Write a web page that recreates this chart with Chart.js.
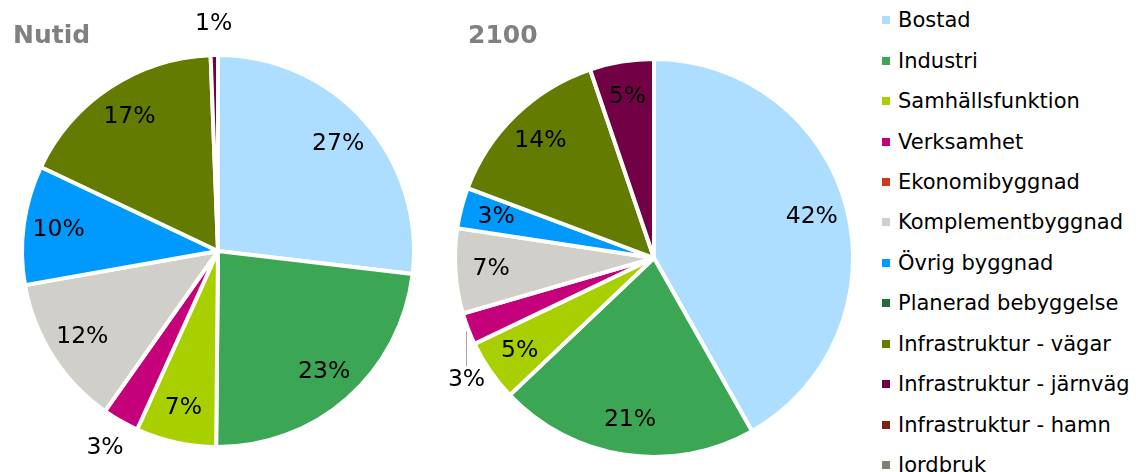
<!DOCTYPE html>
<html>
<head>
<meta charset="utf-8">
<script src="https://cdn.jsdelivr.net/npm/chart.js@4/dist/chart.umd.min.js"></script>
<style>
  html, body { margin: 0; padding: 0; background: #fff; }
  body { width: 1142px; height: 472px; position: relative; overflow: hidden; font-family: "DejaVu Sans", Verdana, sans-serif; }
  .box { position: absolute; top: 0; width: 440px; height: 472px; }
  .title { position: absolute; top: 22px; font-size: 25px; font-weight: bold; color: #808080; line-height: 1; }
  #legend { position: absolute; left: 882px; top: 0; width: 260px; }
  .item { height: 40.45px; display: flex; align-items: center; font-size: 21px; color: #000; white-space: nowrap; }
  .item span.sw { width: 8px; height: 8px; margin-right: 8px; flex: none; }
</style>
</head>
<body>
<div class="box" style="left:0"><canvas id="nutidChart"></canvas></div>
<div class="box" style="left:440px"><canvas id="futureChart"></canvas></div>
<div class="title" style="left:13px">Nutid</div>
<div class="title" style="left:468px">2100</div>
<div id="legend"></div>
<script>
const categories = [
  "Bostad",
  "Industri",
  "Samhällsfunktion",
  "Verksamhet",
  "Ekonomibyggnad",
  "Komplementbyggnad",
  "Övrig byggnad",
  "Planerad bebyggelse",
  "Infrastruktur - vägar",
  "Infrastruktur - järnväg",
  "Infrastruktur - hamn",
  "Jordbruk",
];
// andel av ytan, %
const nutidValues = [26.8, 23.2, 6.6, 3.0, 0, 12.4, 9.8, 0, 17.3, 0.6, 0, 0];
const futureValues = [41.8, 21.1, 5.0, 2.6, 0, 6.9, 3.3, 0, 14.1, 5.2, 0, 0];
const colors = [
  "#ADDEFF",
  "#3BA654",
  "#A8D000",
  "#C4007A",
  "#D03A1A",
  "#D0CFC9",
  "#009AFF",
  "#236B3A",
  "#627B00",
  "#720045",
  "#7E2212",
  "#7F8070",
];

// procentetiketter i tårtbitarna
const pieLabels = {
  id: "pieLabels",
  afterDatasetsDraw(chart, args, opts) {
    const ctx = chart.ctx;
    const data = chart.data.datasets[0].data;
    const total = data.reduce((a, b) => a + b, 0);
    const meta = chart.getDatasetMeta(0);
    ctx.save();
    ctx.font = '23.5px "DejaVu Sans"';
    ctx.fillStyle = "#000";
    ctx.textAlign = "center";
    ctx.textBaseline = "middle";
    meta.data.forEach((arc, i) => {
      if (!data[i]) return;
      const p = arc.getProps(["x", "y", "startAngle", "endAngle", "outerRadius"], true);
      const text = Math.round((data[i] / total) * 100) + "%";
      const mid = (p.startAngle + p.endAngle) / 2;
      const c = (opts.custom || {})[i] || {};
      let lx, ly;
      if (c.dx !== undefined) {
        lx = p.x + c.dx * p.outerRadius;
        ly = p.y + c.dy * p.outerRadius;
      } else {
        const f = c.r || opts.inside;
        lx = p.x + Math.cos(mid) * p.outerRadius * f;
        ly = p.y + Math.sin(mid) * p.outerRadius * f;
      }
      if (c.line) {
        ctx.strokeStyle = "#A6A6A6";
        ctx.lineWidth = 1;
        ctx.beginPath();
        ctx.moveTo(lx, p.y + c.line[0] * p.outerRadius);
        ctx.lineTo(lx, p.y + c.line[1] * p.outerRadius);
        ctx.stroke();
      }
      ctx.fillText(text, lx, ly);
    });
    ctx.restore();
  },
};

function makePie(id, values, padding, custom) {
  return new Chart(document.getElementById(id).getContext("2d"), {
    type: "pie",
    data: {
      labels: categories,
      datasets: [
        {
          data: values,
          backgroundColor: colors,
          borderColor: "#FFFFFF",
          borderWidth: 4,
        },
      ],
    },
    options: {
      responsive: true,
      maintainAspectRatio: false,
      animation: false,
      layout: { padding: padding },
      plugins: {
        legend: { display: false },
        tooltip: { enabled: false },
        pieLabels: { inside: 0.82, custom: custom },
      },
    },
    plugins: [pieLabels],
  });
}

makePie("nutidChart", nutidValues,
  { left: 20, right: 24, top: 53, bottom: 23 },
  { 3: { r: 1.16 }, 9: { r: 1.16 } });

makePie("futureChart", futureValues,
  { left: 13, right: 25, top: 57, bottom: 13 },
  { 3: { dx: -0.942, dy: 0.615, line: [0.368, 0.544] } });

// förklaring
const legendEl = document.getElementById("legend");
categories.forEach((name, i) => {
  const row = document.createElement("div");
  row.className = "item";
  const sw = document.createElement("span");
  sw.className = "sw";
  sw.style.background = colors[i];
  row.appendChild(sw);
  row.appendChild(document.createTextNode(name));
  legendEl.appendChild(row);
});
</script>
</body>
</html>
